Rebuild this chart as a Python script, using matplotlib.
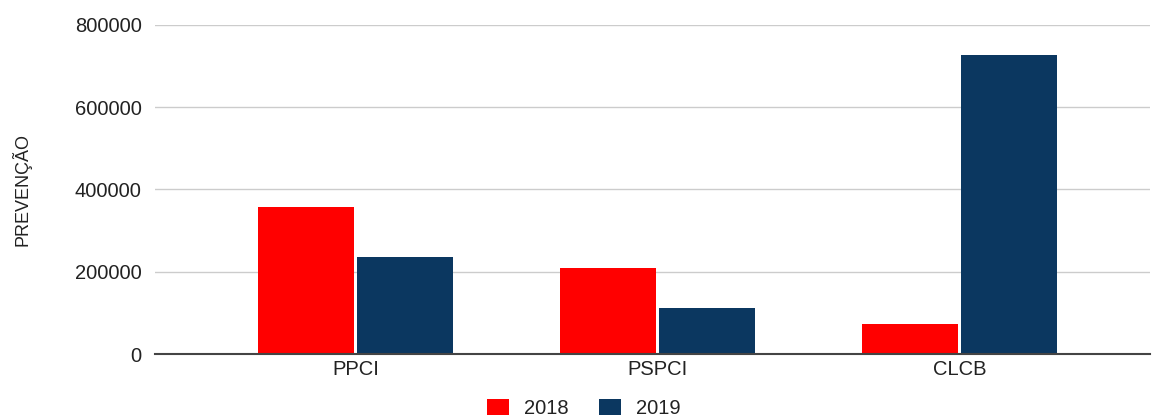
import matplotlib.pyplot as plt
import numpy as np

plt.rcParams['font.family'] = ['Liberation Sans', 'DejaVu Sans']

# dados
categorias = ['PPCI', 'PSPCI', 'CLCB']
anos = ['2018', '2019']
valores_2018 = [358000, 209000, 74000]
valores_2019 = [235000, 112000, 726000]
cores = ['#ff0000', '#0b3760']

fig = plt.figure(figsize=(11.53, 4.16), dpi=100)
ax = fig.add_axes([0.1344, 0.149, 0.8626, 0.791])

x = np.arange(len(categorias))
largura = 0.318
ax.bar(x - largura / 2 - 0.004, valores_2018, largura, color=cores[0], label=anos[0], zorder=3)
ax.bar(x + largura / 2 + 0.004, valores_2019, largura, color=cores[1], label=anos[1], zorder=3)

ax.set_xlim(-0.665, 2.63)
ax.set_ylim(0, 800000)
ax.set_yticks([0, 200000, 400000, 600000, 800000])
ax.set_yticklabels(['0', '200000', '400000', '600000', '800000'])
ax.set_xticks(x)
ax.set_xticklabels(categorias)

ax.grid(axis='y', color='#cccccc', linewidth=1, zorder=0)
for lado in ['top', 'right', 'left']:
    ax.spines[lado].set_visible(False)
ax.spines['bottom'].set_color('#444444')
ax.spines['bottom'].set_linewidth(1.5)
ax.spines['bottom'].set_zorder(4)
ax.tick_params(axis='both', length=0, labelsize=14.5, colors='#222222')
ax.tick_params(axis='y', pad=9.5)
ax.tick_params(axis='x', pad=4)

ax.set_ylabel('PREVENÇÃO', fontsize=13, color='#222222', labelpad=31)

ax.legend(loc='center', bbox_to_anchor=(0.431, -0.165), ncol=2, frameon=False,
          fontsize=14.5, handlelength=1.1, handleheight=0.9, columnspacing=1.5,
          handletextpad=0.75, labelcolor='#222222', borderpad=0)

fig.savefig('out.png', dpi=100)
